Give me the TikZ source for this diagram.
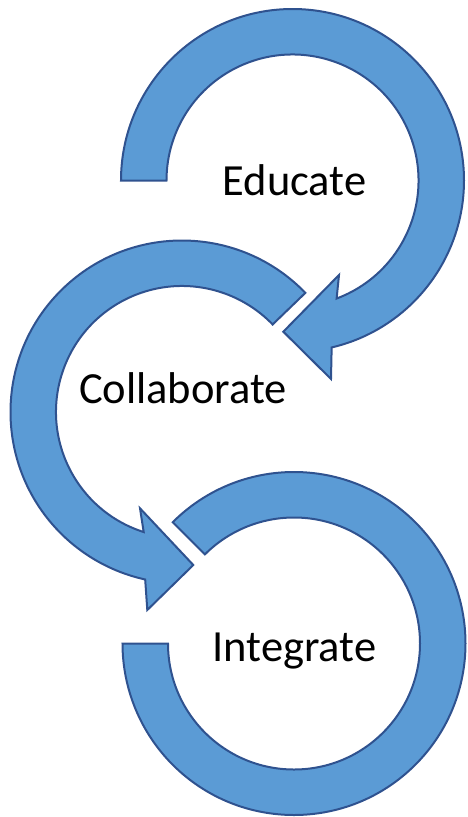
\documentclass[tikz,border=0pt]{standalone}
\usepackage{fontspec}
\setmainfont{Carlito}
\usetikzlibrary{calc}
\definecolor{arrowfill}{HTML}{5B9BD5}
\definecolor{arrowline}{HTML}{2F528F}
\tikzset{
  ringarrow/.style={fill=arrowfill, draw=arrowline, line width=2pt, line join=miter},
  label/.style={font=\fontsize{44.5}{52}\selectfont, text=black, anchor=base, inner sep=0pt}
}
\begin{document}
\begin{tikzpicture}[x=1pt, y=-1pt]
\useasboundingbox (0,0) rectangle (467,817);
\coordinate (c1) at (292.5,180.5);
\coordinate (c2) at (182,412);
\coordinate (c3) at (294,643.5);
% arrow 1 head
\coordinate (b1l) at (331,379);
\coordinate (t1) at (283.3,331.7);
\coordinate (b1u) at (339,275);
% arrow 2 head
\coordinate (b2l) at (147.3,610);
\coordinate (t2) at (193.3,565);
\coordinate (b2u) at (140,508.3);
% circle 1
\draw[ringarrow] ($(c1)+(180:171.5)$) arc[start angle=180, end angle=436.8, radius=171.5]
  -- (b1l) -- (t1) -- (b1u) -- ($(c1)+(69.5:126)$)
  arc[start angle=429.5, end angle=180, radius=126] -- cycle;
% circle 2
\draw[ringarrow] ($(c2)+(316:171.5)$) arc[start angle=316, end angle=102.4, radius=171.5]
  -- (b2l) -- (t2) -- (b2u) -- ($(c2)+(107.7:126)$)
  arc[start angle=107.7, end angle=316, radius=126] -- cycle;
% circle 3
\draw[ringarrow] ($(c3)+(225:171.5)$) arc[start angle=225, end angle=540, radius=171.5]
  -- ($(c3)+(540:126)$) arc[start angle=540, end angle=225, radius=126] -- cycle;
\node[label] (educate) at (294.5,195) {Educate};
\node[label] (collaborate) at (183,403) {Collaborate};
\node[label] (integrate) at (294.5,661.7) {Integrate};
\end{tikzpicture}
\end{document}
